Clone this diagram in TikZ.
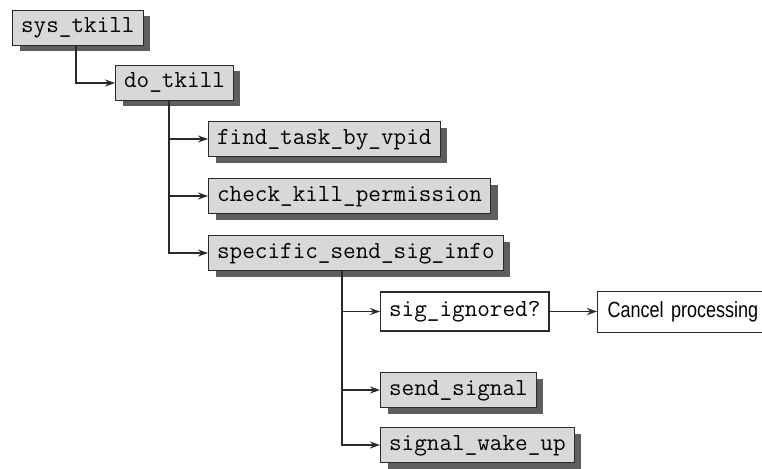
\documentclass[tikz,border=0pt]{standalone}
\usepackage{fontspec}
\newfontfamily\condfont[FakeStretch=0.82]{Liberation Sans}
\usetikzlibrary{arrows.meta,shadows}
\definecolor{boxfill}{HTML}{D8D8D8}
\definecolor{shadowc}{HTML}{5E5E5E}
\definecolor{linec}{HTML}{2A2A2A}
\tikzset{
  fbox/.style={draw=linec, line width=1.1pt, fill=boxfill, anchor=west,
    font=\ttfamily\fontsize{24.5}{24.5}\selectfont, text height=15pt, text depth=5pt,
    inner xsep=8.5pt, inner ysep=0pt, minimum height=35pt,
    drop shadow={shadow xshift=7pt, shadow yshift=-6pt, fill=shadowc, opacity=1}},
  wbox/.style={draw=linec, line width=1.1pt, fill=white, anchor=west,
    font=\ttfamily\fontsize{24.5}{24.5}\selectfont, text height=15pt, text depth=5pt,
    inner xsep=8.5pt, inner ysep=0pt, minimum height=39pt},
  arr/.style={draw=linec, line width=1.6pt, -{Stealth[length=10pt,width=7pt,inset=3.5pt]}}
}
\begin{document}
\begin{tikzpicture}[x=1pt,y=-1pt]
\useasboundingbox (0,0) rectangle (762,468);
\clip (0,0) rectangle (762,468);
\fill[white] (0,0) rectangle (762,468);
\node[fbox] (sys) at (12,28) {sys\_tkill};
\node[fbox] (do) at (115,83) {do\_tkill};
\node[fbox] (find) at (208,139) {find\_task\_by\_vpid};
\node[fbox] (check) at (208,196) {check\_kill\_permission};
\node[fbox] (spec) at (208,253) {specific\_send\_sig\_info};
\node[wbox] (sig) at (380,311.5) {sig\_ignored?};
\node[draw=linec, line width=1.1pt, fill=white, anchor=west, minimum height=41pt,
  text width=190pt, align=left, inner xsep=10pt, inner ysep=0pt,
  font=\condfont\fontsize{22}{22}\selectfont] (cancel) at (597,312) {Cancel processing};
\node[fbox] (send) at (380,390) {send\_signal};
\node[fbox] (wake) at (380,445) {signal\_wake\_up};
\coordinate (t1) at ([xshift=64pt]sys.south west);
\coordinate (t2) at ([xshift=54pt]do.south west);
\coordinate (t3) at ([xshift=134pt]spec.south west);
\draw[arr] (t1) |- (do.west);
\draw[arr] (t2) |- (find.west);
\draw[arr] (t2) |- (check.west);
\draw[arr] (t2) |- (spec.west);
\draw[arr] (t3) |- (sig.west);
\draw[arr] (t3) |- (send.west);
\draw[arr] (t3) |- (wake.west);
\draw[arr] (sig.east) -- (sig.east -| cancel.west);
\end{tikzpicture}
\end{document}
